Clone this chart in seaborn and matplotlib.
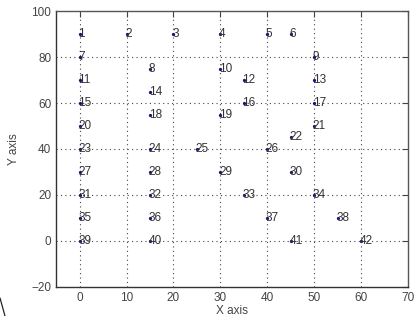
import matplotlib
matplotlib.use("Agg")
import matplotlib.pyplot as plt
import seaborn as sns
import pandas as pd
from matplotlib.lines import Line2D

# node positions
node_ids = list(range(1, 43))
node_x = [0, 10, 20, 30, 40, 45, 0, 15, 50, 30,
          0, 35, 50, 15, 0, 35, 50, 15, 30, 0,
          50, 45, 0, 15, 25, 40, 0, 15, 30, 45,
          0, 15, 35, 50, 0, 15, 40, 55, 0, 15,
          45, 60]
node_y = [90, 90, 90, 90, 90, 90, 80, 75, 80, 75,
          70, 70, 70, 65, 60, 60, 60, 55, 55, 50,
          50, 45, 40, 40, 40, 40, 30, 30, 30, 30,
          20, 20, 20, 20, 10, 10, 10, 10, 0, 0,
          0, 0]

x_ticks = [0, 10, 20, 30, 40, 50, 60, 70]
y_ticks = [-20, 0, 20, 40, 60, 80, 100]

df = pd.DataFrame({"x": node_x, "y": node_y, "id": node_ids})

sns.set_style("white")
plt.rcParams["font.family"] = ["Liberation Sans", "DejaVu Sans"]

fig = plt.figure(figsize=(4.16, 3.16), dpi=100)
ax = fig.add_axes([0.135, 0.092, 0.846, 0.873])

# dotted grid like matlab
for gx in x_ticks[:-1]:
    ax.axvline(gx, color="#444444", linestyle=(0, (1, 3)), linewidth=0.8, zorder=0)
for gy in y_ticks[1:-1]:
    ax.axhline(gy, color="#444444", linestyle=(0, (1, 3)), linewidth=0.8, zorder=0)

sns.scatterplot(data=df, x="x", y="y", ax=ax, marker=".", s=22,
                color="#14147a", edgecolor="#14147a", linewidth=0, zorder=3)

for i, row in df.iterrows():
    ax.text(row["x"] - 0.3, row["y"], str(row["id"]), fontsize=8.5,
            color="#333333", ha="left", va="center", zorder=4)

ax.set_xlim(-5, 70)
ax.set_ylim(-20, 100)
ax.set_xticks(x_ticks)
ax.set_yticks(y_ticks)
ax.tick_params(direction="in", length=4, labelsize=8.5, colors="#444444",
               top=True, right=True)
ax.set_xlabel("X axis", fontsize=8.5, color="#444444", labelpad=1)
ax.set_ylabel("Y axis", fontsize=8.5, color="#444444", labelpad=8)

for side in ["left", "bottom"]:
    ax.spines[side].set_color("#333333")
    ax.spines[side].set_linewidth(1.0)
for side in ["top", "right"]:
    ax.spines[side].set_color("#555555")
    ax.spines[side].set_linewidth(1.0)

# stray stroke in the corner of the screenshot
fig.add_artist(Line2D([0 / 416, 5 / 416], [18 / 316, 0], color="#222222",
                      linewidth=0.9))

fig.savefig("out.png", dpi=100)
plt.close()
